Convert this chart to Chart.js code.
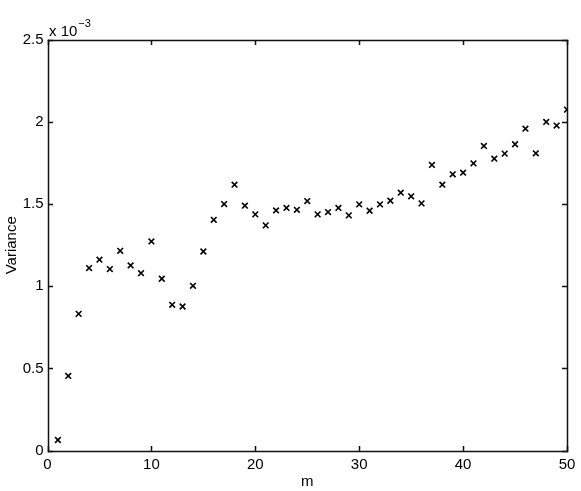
<!DOCTYPE html>
<html>
<head>
<meta charset="utf-8">
<script src="https://cdn.jsdelivr.net/npm/chart.js@4/dist/chart.umd.min.js"></script>
<style>
  body { margin: 0; background: #fff; }
  canvas { display: block; }
</style>
</head>
<body>
<canvas id="varChart" width="581" height="491"></canvas>
<script>
// m = 1..50, variance in units of 1e-3
const mValues = [];
for (let i = 1; i <= 50; i++) mValues.push(i);
const variance = [
  0.064, 0.454, 0.832, 1.111, 1.162, 1.105, 1.216, 1.127, 1.080, 1.273,
  1.046, 0.887, 0.877, 1.003, 1.212, 1.405, 1.501, 1.619, 1.491, 1.438,
  1.371, 1.462, 1.477, 1.466, 1.519, 1.438, 1.452, 1.477, 1.432, 1.499,
  1.460, 1.499, 1.521, 1.570, 1.548, 1.505, 1.739, 1.619, 1.682, 1.692,
  1.749, 1.855, 1.777, 1.808, 1.865, 1.960, 1.810, 2.001, 1.979, 2.076
];
const xTicks = [0, 10, 20, 30, 40, 50];
const yTicks = [0, 0.5, 1, 1.5, 2, 2.5];

const FONT = '"Liberation Sans", Arial, Helvetica, sans-serif';

// matlab style box with inward ticks on all four sides, plus the x 10^-3 label
const axisBox = {
  id: 'axisBox',
  afterDraw(chart) {
    const ctx = chart.ctx;
    const a = chart.chartArea;
    const xs = chart.scales.x, ys = chart.scales.y;
    const tl = 5, lw = 1.5;
    const L = Math.round(a.left), R = Math.round(a.right);
    const T = Math.round(a.top), B = Math.round(a.bottom);
    const o = 0.5 - lw / 2;
    ctx.save();
    ctx.fillStyle = '#111';
    ctx.fillRect(L + o, T + o, R - L + lw, lw);
    ctx.fillRect(L + o, B + o, R - L + lw, lw);
    ctx.fillRect(L + o, T + o, lw, B - T + lw);
    ctx.fillRect(R + o, T + o, lw, B - T + lw);
    xTicks.forEach(v => {
      const px = Math.round(xs.getPixelForValue(v));
      ctx.fillRect(px + o, B - tl, lw, tl);
      ctx.fillRect(px + o, T, lw, tl);
    });
    yTicks.forEach(v => {
      const py = Math.round(ys.getPixelForValue(v));
      ctx.fillRect(L, py + o, tl, lw);
      ctx.fillRect(R - tl, py + o, tl, lw);
    });

    ctx.fillStyle = '#000';
    ctx.textBaseline = 'alphabetic';
    ctx.textAlign = 'left';
    ctx.font = '15px ' + FONT;
    ctx.fillText('x 10', L + 1, T - 4);
    const w = ctx.measureText('x 10').width;
    ctx.font = '11px ' + FONT;
    ctx.fillText('\u22123', L + 2 + w, T - 13);
    ctx.restore();
  }
};

new Chart(document.getElementById('varChart'), {
  type: 'scatter',
  data: {
    datasets: [{
      data: mValues.map((m, i) => ({ x: m, y: variance[i] })),
      pointStyle: 'crossRot',
      pointRadius: 4,
      pointBorderWidth: 1.6,
      borderColor: '#000',
      backgroundColor: '#000'
    }]
  },
  options: {
    responsive: false,
    animation: false,
    layout: { padding: { left: 0, top: 40, right: 14, bottom: 0 } },
    plugins: { legend: { display: false }, tooltip: { enabled: false } },
    scales: {
      x: {
        min: 0, max: 50,
        afterBuildTicks: s => { s.ticks = xTicks.map(v => ({ value: v })); },
        afterFit: s => { s.height = 40.5; },
        grid: { display: false, drawTicks: false },
        border: { display: false },
        ticks: { color: '#000', font: { family: FONT, size: 15 }, padding: 5, maxRotation: 0 },
        title: { display: true, text: 'm', color: '#000', font: { family: FONT, size: 15 }, padding: { top: 0, bottom: 0 } }
      },
      y: {
        min: 0, max: 2.5,
        afterBuildTicks: s => { s.ticks = yTicks.map(v => ({ value: v })); },
        afterFit: s => { s.width = 47.5; },
        grid: { display: false, drawTicks: false },
        border: { display: false },
        ticks: { color: '#000', font: { family: FONT, size: 15 }, padding: 4, callback: v => String(v) },
        title: { display: true, text: 'Variance', color: '#000', font: { family: FONT, size: 15 }, padding: { top: 2.5, bottom: 0 } }
      }
    }
  },
  plugins: [axisBox]
});
</script>
</body>
</html>
